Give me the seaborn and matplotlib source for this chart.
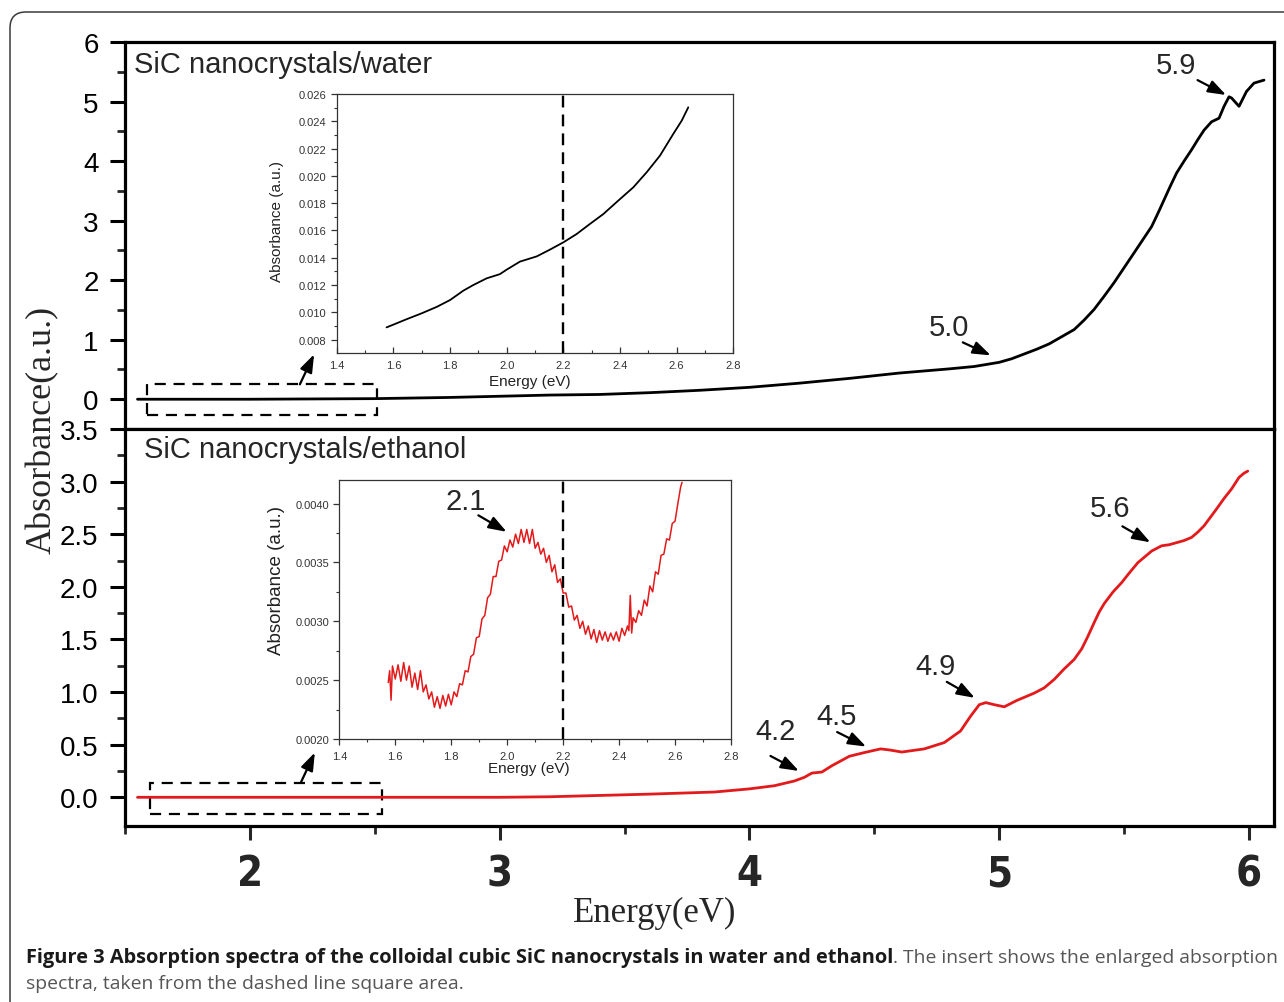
import numpy as np
import pandas as pd
import matplotlib
matplotlib.use("Agg")
import matplotlib.pyplot as plt
import seaborn as sns
from matplotlib.patches import Rectangle, FancyBboxPatch
from matplotlib.ticker import FixedLocator, FormatStrFormatter
from matplotlib.transforms import IdentityTransform
from matplotlib import font_manager as fm

# ---------------- data ----------------
water_x = [1.55, 2.0, 2.5, 2.8, 3.0, 3.2, 3.4, 3.6, 3.8, 4.0, 4.2, 4.4, 4.6, 4.8,
           4.9, 5.0, 5.05, 5.1, 5.15, 5.2, 5.25, 5.3, 5.34, 5.38, 5.42, 5.46,
           5.50, 5.54, 5.575, 5.61, 5.635, 5.66, 5.685, 5.71, 5.74, 5.77, 5.795,
           5.82, 5.85, 5.88, 5.90, 5.92, 5.93, 5.96, 5.99, 6.02, 6.06]
water_y = [0.0, 0.0, 0.01, 0.03, 0.05, 0.07, 0.08, 0.11, 0.15, 0.20, 0.27, 0.35,
           0.44, 0.51, 0.55, 0.62, 0.68, 0.76, 0.84, 0.93, 1.05, 1.17, 1.33, 1.51,
           1.73, 1.96, 2.21, 2.46, 2.68, 2.90, 3.12, 3.35, 3.58, 3.80, 4.00, 4.19,
           4.36, 4.52, 4.66, 4.72, 4.92, 5.08, 5.06, 4.92, 5.17, 5.31, 5.36]

eth_x = [1.55, 2.0, 2.5, 3.0, 3.2, 3.6, 3.86, 4.0, 4.1, 4.18, 4.22, 4.25, 4.29,
         4.33, 4.40, 4.46, 4.525, 4.56, 4.61, 4.70, 4.78, 4.845, 4.885, 4.92,
         4.946, 4.98, 5.02, 5.07, 5.10, 5.14, 5.18, 5.22, 5.26, 5.30, 5.33,
         5.355, 5.38, 5.40, 5.42, 5.455, 5.49, 5.52, 5.555, 5.585, 5.61, 5.65,
         5.68, 5.71, 5.74, 5.77, 5.795, 5.82, 5.845, 5.87, 5.90, 5.93, 5.96,
         5.98, 5.995]
eth_y = [0.0, 0.0, 0.0, 0.0, 0.005, 0.03, 0.05, 0.08, 0.11, 0.155, 0.19, 0.23,
         0.24, 0.30, 0.39, 0.425, 0.46, 0.45, 0.43, 0.46, 0.52, 0.63, 0.77, 0.88,
         0.90, 0.88, 0.86, 0.92, 0.95, 0.99, 1.04, 1.12, 1.22, 1.31, 1.41,
         1.53, 1.66, 1.76, 1.84, 1.95, 2.04, 2.13, 2.23, 2.29, 2.34, 2.39,
         2.40, 2.42, 2.44, 2.47, 2.52, 2.58, 2.66, 2.74, 2.84, 2.93, 3.04,
         3.08, 3.10]

ins_w_x = [1.576, 1.60, 1.647, 1.70, 1.753, 1.80, 1.847, 1.882, 1.929, 1.976,
           2.0, 2.047, 2.106, 2.153, 2.2, 2.247, 2.294, 2.341, 2.40, 2.447,
           2.494, 2.541, 2.588, 2.618, 2.641]
ins_w_y = [0.0089, 0.0091, 0.0095, 0.00993, 0.0104, 0.0109, 0.01159, 0.0120,
           0.01249, 0.0128, 0.01313, 0.01372, 0.0141, 0.0146, 0.01513, 0.01574,
           0.01648, 0.0172, 0.0183, 0.01916, 0.02026, 0.02148, 0.02307, 0.02405,
           0.02502]

ins_e_x = [1.575, 1.58, 1.585, 1.59, 1.60, 1.61, 1.62, 1.63, 1.64, 1.65, 1.66,
           1.67, 1.68, 1.69, 1.70, 1.71, 1.72, 1.73, 1.74, 1.75, 1.76, 1.77,
           1.78, 1.79, 1.80, 1.81, 1.82, 1.83, 1.84, 1.85, 1.86, 1.87, 1.88,
           1.89, 1.90, 1.91, 1.92, 1.93, 1.94, 1.95, 1.96, 1.97, 1.98, 1.99,
           2.00, 2.01, 2.02, 2.03, 2.04, 2.05, 2.06, 2.07, 2.08, 2.09, 2.10,
           2.11, 2.12, 2.13, 2.14, 2.15, 2.16, 2.17, 2.18, 2.19, 2.20, 2.21,
           2.22, 2.23, 2.24, 2.25, 2.26, 2.27, 2.28, 2.29, 2.30, 2.31, 2.32,
           2.33, 2.34, 2.35, 2.36, 2.37, 2.38, 2.39, 2.40, 2.41, 2.42, 2.43,
           2.435, 2.44, 2.445, 2.45, 2.46, 2.47, 2.48, 2.49, 2.50, 2.51, 2.52,
           2.53, 2.54, 2.55, 2.56, 2.57, 2.58, 2.59, 2.60, 2.61, 2.62, 2.625]
ins_e_y = [0.00248, 0.00258, 0.00233, 0.00262, 0.00251, 0.00263, 0.00249,
           0.00265, 0.00250, 0.00262, 0.00244, 0.00256, 0.00242, 0.00258,
           0.00240, 0.00246, 0.00234, 0.00240, 0.00227, 0.00236, 0.00226,
           0.00237, 0.00228, 0.00238, 0.00229, 0.00240, 0.00236, 0.00247,
           0.00246, 0.00258, 0.00257, 0.00270, 0.00272, 0.00286, 0.00287,
           0.00302, 0.00305, 0.00320, 0.00323, 0.00338, 0.00338, 0.00351,
           0.00352, 0.00364, 0.00359, 0.00369, 0.00363, 0.00374, 0.00366,
           0.00378, 0.00367, 0.00378, 0.00366, 0.00378, 0.00362, 0.00367,
           0.00357, 0.00362, 0.00350, 0.00356, 0.00342, 0.00348, 0.00333,
           0.00336, 0.00324, 0.00324, 0.00312, 0.00313, 0.00301, 0.00305,
           0.00294, 0.00300, 0.00289, 0.00296, 0.00285, 0.00293, 0.00282,
           0.00292, 0.00284, 0.00291, 0.00283, 0.00290, 0.00284, 0.00291,
           0.00283, 0.00294, 0.00288, 0.00296, 0.00292, 0.00322, 0.00290,
           0.00303, 0.00299, 0.00309, 0.00305, 0.00318, 0.00313, 0.00330,
           0.00325, 0.00342, 0.00340, 0.00356, 0.00357, 0.00370, 0.00369,
           0.00383, 0.00385, 0.00400, 0.00414, 0.00418]

top_title = "SiC nanocrystals/water"
bot_title = "SiC nanocrystals/ethanol"
top_peaks = ["5.0", "5.9"]
bot_peaks = ["4.2", "4.5", "4.9", "5.6"]
inset_peak = "2.1"
x_ticks = [2, 3, 4, 5, 6]

# ---------------- style ----------------
sns.set_theme(style="ticks")
plt.rcParams["font.family"] = ["Liberation Sans", "DejaVu Sans"]
plt.rcParams["axes.edgecolor"] = "black"
names = {f.name for f in fm.fontManager.ttflist}
cond = None
for f in fm.fontManager.ttflist:
    fn = f.fname.lower()
    if ("condensed" in fn or "narrow" in fn) and ("bold" in fn):
        cond = f.fname
        break
capfont = "Open Sans" if "Open Sans" in names else "DejaVu Sans"

W, H = 1284, 1003
fig = plt.figure(figsize=(W / 100, H / 100), dpi=100)
fig.patch.set_facecolor("white")

# outer rounded frame
frame = FancyBboxPatch((10, -30), 1400, H - 13 + 30,
                       boxstyle="round,pad=0,rounding_size=16",
                       transform=IdentityTransform(), facecolor="none",
                       edgecolor="#3a3a3a", lw=1.1)
fig.patches.append(frame)

ax_top = fig.add_axes([125 / W, 1 - 430 / H, 1149 / W, 387 / H])
ax_bot = fig.add_axes([125 / W, 1 - 826.7 / H, 1149 / W, 396.7 / H])

df_w = pd.DataFrame({"E": water_x, "A": water_y})
df_e = pd.DataFrame({"E": eth_x, "A": eth_y})
sns.lineplot(data=df_w, x="E", y="A", ax=ax_top, color="black", lw=2.0,
             estimator=None, sort=False)
sns.lineplot(data=df_e, x="E", y="A", ax=ax_bot, color="#e31a1c", lw=2.0,
             estimator=None, sort=False)

for ax in (ax_top, ax_bot):
    ax.set_xlim(1.5, 6.1)
    ax.set_xlabel("")
    ax.set_ylabel("")
    for s in ax.spines.values():
        s.set_visible(True)
        s.set_linewidth(2.3)
        s.set_color("black")
    ax.tick_params(axis="y", which="major", direction="out", length=11,
                   width=2.2, labelsize=20, pad=8, colors="black")
    ax.tick_params(axis="y", which="minor", direction="out", length=6,
                   width=2.0)

ax_top.set_ylim(-0.5, 6)
ax_top.yaxis.set_major_locator(FixedLocator([0, 1, 2, 3, 4, 5, 6]))
ax_top.yaxis.set_minor_locator(FixedLocator([0.5, 1.5, 2.5, 3.5, 4.5, 5.5]))
ax_top.yaxis.set_major_formatter(FormatStrFormatter("%d"))
ax_top.tick_params(axis="x", which="both", bottom=False, labelbottom=False)

ax_bot.set_ylim(-0.27, 3.5)
ax_bot.yaxis.set_major_locator(FixedLocator([0, 0.5, 1.0, 1.5, 2.0, 2.5, 3.0, 3.5]))
ax_bot.yaxis.set_minor_locator(FixedLocator([0.25, 0.75, 1.25, 1.75, 2.25, 2.75, 3.25]))
ax_bot.yaxis.set_major_formatter(FormatStrFormatter("%.1f"))
ax_bot.xaxis.set_major_locator(FixedLocator(x_ticks))
ax_bot.xaxis.set_minor_locator(FixedLocator([1.5, 2.5, 3.5, 4.5, 5.5]))
ax_bot.xaxis.set_major_formatter(FormatStrFormatter("%d"))
ax_bot.tick_params(axis="x", which="major", direction="out", length=10,
                   width=2.2, pad=9)
ax_bot.tick_params(axis="x", which="minor", direction="out", length=6,
                   width=2.0)
for lab in ax_bot.get_xticklabels():
    if cond:
        lab.set_fontproperties(fm.FontProperties(fname=cond, size=30))
    else:
        lab.set_fontfamily("Liberation Sans")
        lab.set_fontweight("bold")
        lab.set_fontsize(29)

# panel titles
ax_top.text(0.0078, 0.943, top_title, transform=ax_top.transAxes,
            ha="left", va="center", fontsize=21)
ax_bot.text(0.0165, 0.95, bot_title, transform=ax_bot.transAxes,
            ha="left", va="center", fontsize=21)

arrow_kw = dict(arrowstyle="-|>,head_length=0.9,head_width=0.32",
                color="black", lw=1.6, shrinkA=0, shrinkB=0)

# top annotations
ax_top.text(4.80, 1.21, top_peaks[0], ha="center", va="center", fontsize=21)
ax_top.annotate("", xy=(4.966, 0.737), xytext=(4.854, 0.955), arrowprops=arrow_kw)
ax_top.text(5.707, 5.61, top_peaks[1], ha="center", va="center", fontsize=21)
ax_top.annotate("", xy=(5.908, 5.11), xytext=(5.794, 5.36), arrowprops=arrow_kw)

# bottom annotations
ax_bot.text(4.104, 0.628, bot_peaks[0], ha="center", va="center", fontsize=21)
ax_bot.annotate("", xy=(4.198, 0.25), xytext=(4.084, 0.393), arrowprops=arrow_kw)
ax_bot.text(4.349, 0.771, bot_peaks[1], ha="center", va="center", fontsize=21)
ax_bot.annotate("", xy=(4.467, 0.482), xytext=(4.351, 0.62), arrowprops=arrow_kw)
ax_bot.text(4.745, 1.243, bot_peaks[2], ha="center", va="center", fontsize=21)
ax_bot.annotate("", xy=(4.902, 0.945), xytext=(4.79, 1.097), arrowprops=arrow_kw)
ax_bot.text(5.443, 2.747, bot_peaks[3], ha="center", va="center", fontsize=21)
ax_bot.annotate("", xy=(5.605, 2.423), xytext=(5.493, 2.575), arrowprops=arrow_kw)

# dashed rectangles + pointer arrows
ax_top.add_patch(Rectangle((1.59, -0.26), 0.92, 0.51, fill=False, ec="black",
                           lw=1.6, ls=(0, (5, 3.5))))
ax_top.annotate("", xy=(2.257, 0.754), xytext=(2.20, 0.25), arrowprops=arrow_kw)
ax_bot.add_patch(Rectangle((1.60, -0.155), 0.93, 0.288, fill=False, ec="black",
                           lw=1.6, ls=(0, (5, 3.5))))
ax_bot.annotate("", xy=(2.26, 0.425), xytext=(2.204, 0.14), arrowprops=arrow_kw)

# axis labels
fig.text(42 / W, 1 - 430 / H, "Absorbance(a.u.)", rotation=90, ha="center",
         va="center", family="Liberation Serif", fontsize=26)
fig.text(655 / W, 1 - 913 / H, "Energy(eV)", ha="center", va="center",
         family="Liberation Serif", fontsize=25)

# ---------------- insets ----------------
ax_in1 = fig.add_axes([336.7 / W, 1 - 354.3 / H, 396.6 / W, 259.3 / H])
ax_in2 = fig.add_axes([339.3 / W, 1 - 740 / H, 391.7 / W, 259 / H])

sns.lineplot(x=ins_w_x, y=ins_w_y, ax=ax_in1, color="black", lw=1.3,
             estimator=None, sort=False)
sns.lineplot(x=ins_e_x, y=ins_e_y, ax=ax_in2, color="#e31a1c", lw=1.1,
             estimator=None, sort=False)

ax_in1.set_ylim(0.007, 0.026)
ax_in1.yaxis.set_major_locator(FixedLocator([0.008, 0.010, 0.012, 0.014, 0.016,
                                             0.018, 0.020, 0.022, 0.024, 0.026]))
ax_in1.yaxis.set_minor_locator(FixedLocator([0.009, 0.011, 0.013, 0.015, 0.017,
                                             0.019, 0.021, 0.023, 0.025]))
ax_in1.yaxis.set_major_formatter(FormatStrFormatter("%.3f"))
ax_in2.set_ylim(0.0020, 0.0042)
ax_in2.yaxis.set_major_locator(FixedLocator([0.0020, 0.0025, 0.0030, 0.0035, 0.0040]))
ax_in2.yaxis.set_minor_locator(FixedLocator([0.00225, 0.00275, 0.00325, 0.00375]))
ax_in2.yaxis.set_major_formatter(FormatStrFormatter("%.4f"))

for ax, xdir in ((ax_in1, "in"), (ax_in2, "out")):
    ax.set_xlim(1.4, 2.8)
    ax.xaxis.set_major_locator(FixedLocator([1.4, 1.6, 1.8, 2.0, 2.2, 2.4, 2.6, 2.8]))
    ax.xaxis.set_minor_locator(FixedLocator([1.5, 1.7, 1.9, 2.1, 2.3, 2.5, 2.7]))
    ax.xaxis.set_major_formatter(FormatStrFormatter("%.1f"))
    ax.set_xlabel("")
    ax.set_ylabel("")
    ax.axvline(2.2, color="black", lw=1.7, ls=(0, (5, 3)))
    for s in ax.spines.values():
        s.set_visible(True)
        s.set_linewidth(0.9)
        s.set_color("#333333")
    ax.tick_params(axis="both", which="major", labelsize=8, colors="#333333",
                   width=0.9, length=4)
    ax.tick_params(axis="both", which="minor", width=0.8, length=2.5,
                   colors="#333333")
    ax.tick_params(axis="y", which="both", direction="out")
    ax.tick_params(axis="x", which="both", direction=xdir, pad=5)

ax_in1.text(0.487, -0.106, "Energy (eV)", transform=ax_in1.transAxes,
            ha="center", va="center", fontsize=11, color="#222222")
ax_in1.text(-0.1505, 0.514, "Absorbance (a.u.)", transform=ax_in1.transAxes,
            ha="center", va="center", rotation=90, fontsize=11, color="#222222")
ax_in2.text(0.485, -0.112, "Energy (eV)", transform=ax_in2.transAxes,
            ha="center", va="center", fontsize=11, color="#222222")
ax_in2.text(-0.1616, 0.614, "Absorbance (a.u.)", transform=ax_in2.transAxes,
            ha="center", va="center", rotation=90, fontsize=13.5, color="#222222")

ax_in2.text(1.852, 0.004023, inset_peak, ha="center", va="center", fontsize=21)
ax_in2.annotate("", xy=(1.998, 0.00376), xytext=(1.897, 0.0039), arrowprops=arrow_kw)

# ---------------- caption ----------------
cap_bold = "Figure 3 Absorption spectra of the colloidal cubic SiC nanocrystals in water and ethanol"
cap_rest = ". The insert shows the enlarged absorption"
cap_line2 = "spectra, taken from the dashed line square area."

t1 = fig.text(26 / W, 1 - 958 / H, cap_bold, ha="left", va="center",
              family=capfont, fontweight="bold", fontsize=13, color="#1a1a1a")
fig.canvas.draw()
r = fig.canvas.get_renderer()
w1 = t1.get_window_extent(r).width
fs = 13 * 863 / w1
t1.set_fontsize(fs)
fig.canvas.draw()
w1 = t1.get_window_extent(r).width
t2 = fig.text((26 + w1) / W, 1 - 958 / H, cap_rest, ha="left", va="center",
              family=capfont, fontsize=fs, color="#555555")
fig.canvas.draw()
w2 = t2.get_window_extent(r).width
avail = 1278 - (26 + w1)
fs2 = fs * min(1.0, avail / w2)
t2.set_fontsize(fs2)
fig.text(26 / W, 1 - 984 / H, cap_line2, ha="left", va="center",
         family=capfont, fontsize=fs2, color="#555555")

fig.savefig("out.png", dpi=100, facecolor="white")
